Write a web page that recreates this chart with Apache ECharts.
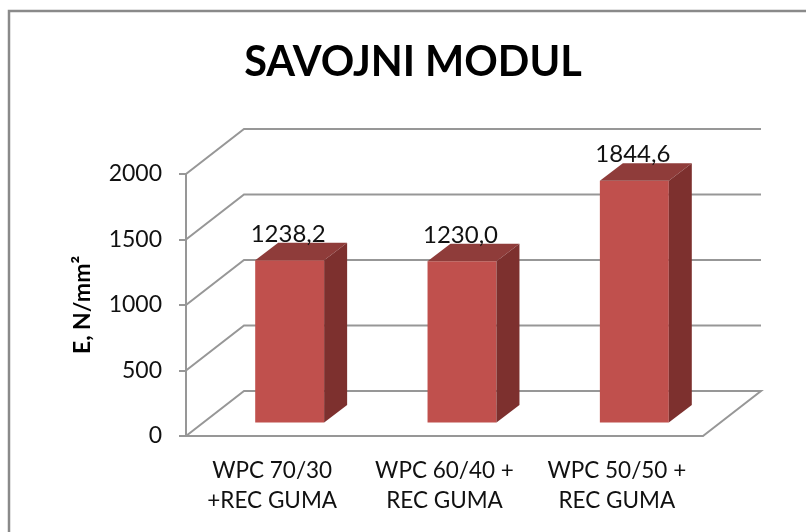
<!DOCTYPE html>
<html><head><meta charset="utf-8">
<style>html,body{margin:0;padding:0;background:#fff}#c{width:806px;height:532px}</style>
<script src="https://cdn.jsdelivr.net/npm/echarts@6/dist/echarts.min.js"></script>
</head><body><div id="c"></div>
<script>
const titleText = 'SAVOJNI MODUL';
const yAxisName = 'E, N/mm²';
const categories = ['WPC 70/30\n+REC GUMA', 'WPC 60/40 +\nREC GUMA', 'WPC 50/50 +\nREC GUMA'];
const values = [1238.2, 1230.0, 1844.6];
const valueLabels = ['1238,2', '1230,0', '1844,6'];
const gridTicks = [0, 500, 1000, 1500, 2000];

const WALL = [58, -45];      // depth of the chart box
const BAR_SHIFT = [17.5, -13.5]; // bar front plane offset
const BAR_DEPTH = [23, -17.5];
const FONT = 'Lato, "Open Sans", sans-serif';

const chart = echarts.init(document.getElementById('c'), null, {renderer: 'canvas'});

function wallItem(params, api) {
  const v = api.value(0);
  const p = api.coord([0, v]);
  const cs = params.coordSys;
  const x0 = cs.x, x1 = cs.x + cs.width;
  const pts = v === 0
    ? [[x0, p[1]], [x0 + WALL[0], p[1] + WALL[1]], [x1 + WALL[0], p[1] + WALL[1]], [x1, p[1]]]
    : [[x0, p[1]], [x0 + WALL[0], p[1] + WALL[1]], [x1 + WALL[0], p[1] + WALL[1]]];
  return {type: 'polyline', shape: {points: pts}, silent: true,
    style: {stroke: '#979797', lineWidth: 2, fill: null}};
}

function barItem(params, api) {
  const i = api.value(0), v = api.value(1);
  const top = api.coord([i, v]), base = api.coord([i, 0]);
  const w = api.size([1, 0])[0] * 0.4;
  const l = top[0] - w / 2 + BAR_SHIFT[0], r = l + w;
  const t = top[1] + BAR_SHIFT[1], b = base[1] + BAR_SHIFT[1];
  const [dx, dy] = BAR_DEPTH;
  return {type: 'group', children: [
    {type: 'rect', shape: {x: l, y: t, width: w, height: b - t}, style: {fill: '#c0504d'}},
    {type: 'polygon', shape: {points: [[l, t], [l + dx, t + dy], [r + dx, t + dy], [r, t]]}, style: {fill: '#8f3c3a'}},
    {type: 'polygon', shape: {points: [[r, t], [r + dx, t + dy], [r + dx, b + dy], [r, b]]}, style: {fill: '#7d302e'}},
    {type: 'text', style: {x: (l + r) / 2 - 1.5, y: t + dy + 3, text: valueLabels[i], align: 'center', verticalAlign: 'bottom',
      font: '24px ' + FONT, fill: '#111'}}
  ]};
}

chart.setOption({
  animation: false,
  backgroundColor: '#fff',
  title: {text: titleText, left: 408, top: 37, textAlign: 'center',
    textStyle: {fontFamily: FONT, fontSize: 41.5, fontWeight: 'bold', color: '#000'}},
  graphic: [{type: 'rect', silent: true, z: -1,
    shape: {x: 9, y: 11, width: 900, height: 900},
    style: {fill: 'none', stroke: '#8a8a8a', lineWidth: 2.5}}],
  grid: {left: 186, right: 103, top: 174, bottom: 96, containLabel: false},
  xAxis: {type: 'category', data: categories, boundaryGap: true,
    axisLine: {show: true, lineStyle: {color: '#979797', width: 2}},
    axisTick: {show: false},
    axisLabel: {color: '#111', fontFamily: FONT, fontSize: 22.5, lineHeight: 30, margin: 20, interval: 0}},
  yAxis: {type: 'value', min: 0, max: 2000, interval: 500,
    name: yAxisName, nameLocation: 'middle', nameGap: 92, nameRotate: 90,
    nameTextStyle: {color: '#000', fontFamily: FONT, fontSize: 23, fontWeight: 'bold'},
    axisLine: {show: true, lineStyle: {color: '#979797', width: 2}},
    axisTick: {show: true, length: 7, lineStyle: {color: '#979797', width: 2}},
    axisLabel: {color: '#111', fontFamily: FONT, fontSize: 23, margin: 24, formatter: v => String(v)},
    splitLine: {show: false}},
  series: [
    {type: 'custom', coordinateSystem: 'cartesian2d', renderItem: wallItem, z: 1,
      encode: {y: 0}, data: gridTicks.map(v => [v]), silent: true},
    {type: 'custom', coordinateSystem: 'cartesian2d', renderItem: barItem, z: 3,
      encode: {x: 0, y: 1}, data: values.map((v, i) => [i, v])}
  ]
});
</script></body></html>
